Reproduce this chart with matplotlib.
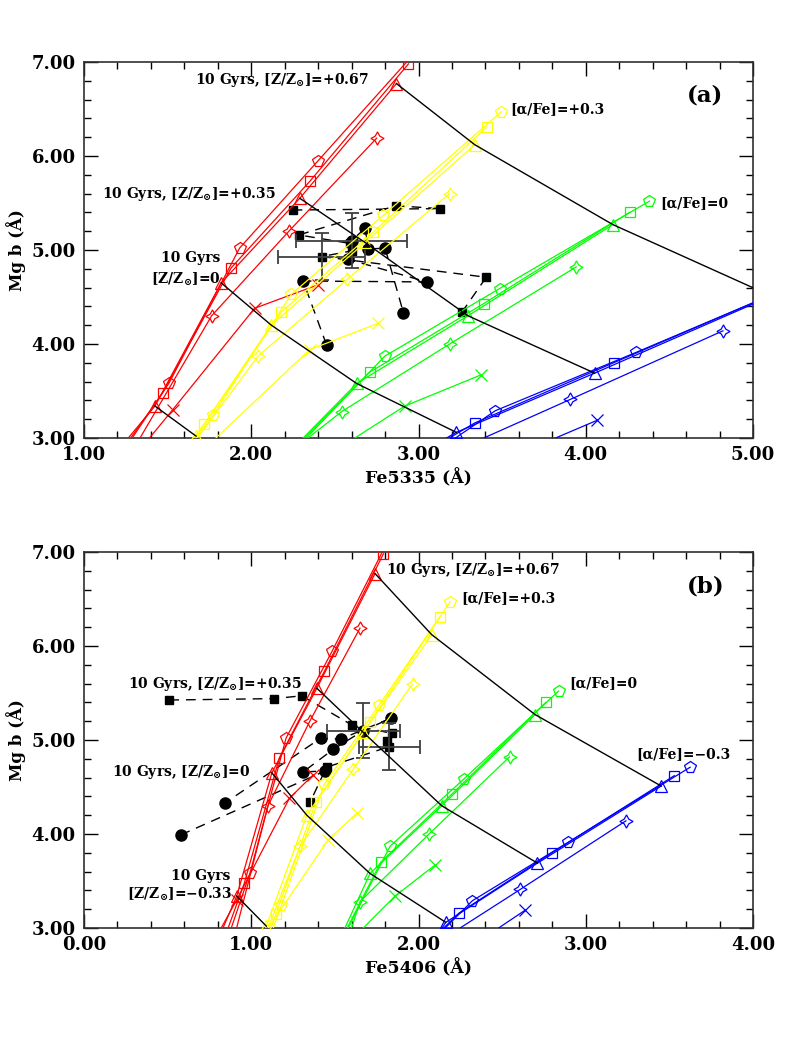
import matplotlib.pyplot as plt
from matplotlib.ticker import MultipleLocator, FormatStrFormatter

plt.rcParams['font.family'] = ['DejaVu Serif']
plt.rcParams['font.weight'] = 'bold'
plt.rcParams['mathtext.fontset'] = 'dejavuserif'

# model tracks, one list per age: x, 4-point star, triangle (10 Gyr), square, pentagon
# first point of every track lies below the plotted Mg b range
track_markers = ['x', (4, 1, 0), '^', 's', 'p']
marker_sizes = [8, 9.5, 9, 7, 8.5]

red_mgb = [[2.5, 3.30, 4.38, 4.63],
           [2.5, 4.30, 5.20, 6.19],
           [2.5, 3.34, 4.65, 5.55, 6.77],
           [2.5, 3.48, 4.81, 5.73, 6.98],
           [2.5, 3.59, 5.02, 5.95, 7.20]]
red_fe5335 = [[1.16, 1.53, 2.02, 2.40],
              [1.17, 1.763, 2.225, 2.75],
              [1.03, 1.424, 1.82, 2.29, 2.868],
              [1.08, 1.47, 1.88, 2.35, 2.94],
              [1.10, 1.51, 1.93, 2.40, 3.03]]
red_fe5406 = [[0.665, 0.913, 1.228, 1.371],
              [0.84, 1.10, 1.35, 1.65],
              [0.71, 0.913, 1.123, 1.392, 1.74],
              [0.76, 0.959, 1.168, 1.437, 1.79],
              [0.785, 0.993, 1.208, 1.485, 1.84]]

yellow_mgb = [[2.5, 3.94, 4.22],
              [2.5, 3.87, 4.69, 5.60],
              [2.5, 3.02, 4.20, 5.08, 6.12],
              [2.5, 3.15, 4.34, 5.19, 6.31],
              [2.5, 3.24, 4.53, 5.37, 6.47]]
yellow_fe5335 = [[1.49, 2.35, 2.76],
                 [1.47, 2.04, 2.575, 3.186],
                 [1.475, 1.67, 2.12, 2.68, 3.336],
                 [1.44, 1.72, 2.18, 2.73, 3.41],
                 [1.46, 1.77, 2.24, 2.79, 3.495]]
yellow_fe5406 = [[0.91, 1.461, 1.631],
                 [0.99, 1.292, 1.61, 1.965],
                 [0.986, 1.09, 1.332, 1.67, 2.079],
                 [1.018, 1.148, 1.386, 1.71, 2.129],
                 [1.03, 1.18, 1.437, 1.764, 2.189]]

green_mgb = [[2.5, 3.34, 3.67],
             [2.5, 3.28, 4.00, 4.82],
             [2.5, 3.58, 4.30, 5.27],
             [2.5, 3.70, 4.43, 5.40],
             [2.5, 3.87, 4.59, 5.52]]
green_fe5335 = [[2.18, 2.918, 3.372],
                [1.98, 2.54, 3.186, 3.943],
                [2.035, 2.63, 3.296, 4.162],
                [2.04, 2.708, 3.39, 4.262],
                [2.06, 2.798, 3.485, 4.381]]
green_fe5406 = [[1.39, 1.86, 2.099],
                [1.51, 1.65, 2.063, 2.544],
                [1.43, 1.71, 2.139, 2.697],
                [1.43, 1.774, 2.203, 2.761],
                [1.435, 1.83, 2.274, 2.837]]

blue_mgb = [[2.5, 3.19],
            [2.5, 3.41, 4.14],
            [2.5, 3.06, 3.69, 4.51],
            [2.5, 3.16, 3.80, 4.62],
            [2.5, 3.29, 3.91, 4.71]]
blue_fe5335 = [[3.16, 4.07],
               [2.76, 3.907, 4.82],
               [2.68, 3.226, 4.053, 5.11],
               [2.71, 3.336, 4.166, 5.24],
               [2.81, 3.459, 4.30, 5.36]]
blue_fe5406 = [[2.06, 2.638],
               [1.81, 2.608, 3.24],
               [1.95, 2.163, 2.711, 3.451],
               [1.86, 2.243, 2.797, 3.529],
               [1.88, 2.322, 2.893, 3.624]]

# 10 Gyr lines of constant [Z/Zsun] = -0.33, 0, +0.35, +0.67
iso_mgb = [[3.34, 3.02],
           [4.65, 4.20, 3.58, 3.06],
           [5.55, 5.08, 4.30, 3.69],
           [6.77, 6.12, 5.27, 4.51]]
iso_fe5335 = [[1.424, 1.67],
              [1.82, 2.12, 2.63, 3.226],
              [2.29, 2.68, 3.296, 4.053],
              [2.868, 3.336, 4.162, 5.11]]
iso_fe5406 = [[0.913, 1.09],
              [1.123, 1.332, 1.71, 2.163],
              [1.392, 1.67, 2.139, 2.711],
              [1.74, 2.079, 2.697, 3.451]]

# observed points (squares and circles), joined in order
sq_mgb = [5.425, 5.44, 5.47, 5.16, 5.07, 4.99, 4.93, 4.71, 4.34]
sq_fe5335 = [2.247, 3.13, 2.864, 2.284, 2.59, 2.60, 2.42, 3.405, 3.26]
sq_fe5406 = [0.510, 1.138, 1.302, 1.601, 1.84, 1.814, 1.826, 1.45, 1.352]
circ_mgb = [3.99, 4.67, 4.66, 4.90, 5.10, 5.23, 5.01, 5.02, 4.33]
circ_fe5335 = [2.45, 2.31, 3.05, 2.58, 2.60, 2.68, 2.70, 2.80, 2.91]
circ_fe5406 = [0.578, 1.441, 1.31, 1.49, 1.67, 1.834, 1.535, 1.416, 0.843]

# typical error bars
err_mgb = [4.93, 5.10]
err_mgb_err = [0.25, 0.295]
err_fe5335 = [2.42, 2.60]
err_fe5335_err = [0.26, 0.33]
err_fe5406 = [1.826, 1.67]
err_fe5406_err = [0.18, 0.22]

model_colors = ['#ff0000', '#ffff00', '#00ff00', '#0000ff']
model_mgb = [red_mgb, yellow_mgb, green_mgb, blue_mgb]

zlab = r'[Z/Z$_{\odot}$]'


def draw_panel(ax, model_x, iso_x, sq_x, circ_x, ex, exerr, xlim, xlabel):
    # observed data
    ax.plot(sq_x, sq_mgb, color='k', lw=1, ls='--', dashes=(7, 5), zorder=1)
    ax.plot(circ_x, circ_mgb, color='k', lw=1, ls='--', dashes=(7, 5), zorder=1)
    ax.plot(sq_x, sq_mgb, 's', color='k', ms=5.5, zorder=2)
    ax.plot(circ_x, circ_mgb, 'o', color='k', ms=8, zorder=2)
    ax.errorbar(ex, err_mgb, xerr=exerr, yerr=err_mgb_err, fmt='none',
                ecolor='#404040', elinewidth=1.3, capsize=5, capthick=1.3, zorder=2)

    # model grids
    for color, xs_all, ys_all in zip(model_colors, model_x, model_mgb):
        for xs, ys, m, ms in zip(xs_all, ys_all, track_markers, marker_sizes):
            ax.plot(xs, ys, color=color, lw=0.9, marker=m, ms=ms, mfc='none',
                    mec=color, mew=0.9, markevery=slice(1, None), zorder=3)
    for xs, ys in zip(iso_x, iso_mgb):
        ax.plot(xs, ys, color='k', lw=1, zorder=4)

    ax.set_xlim(xlim)
    ax.set_ylim(3, 7)
    ax.xaxis.set_major_locator(MultipleLocator(1))
    ax.xaxis.set_minor_locator(MultipleLocator(0.2))
    ax.yaxis.set_major_locator(MultipleLocator(1))
    ax.yaxis.set_minor_locator(MultipleLocator(0.2))
    ax.xaxis.set_major_formatter(FormatStrFormatter('%.2f'))
    ax.yaxis.set_major_formatter(FormatStrFormatter('%.2f'))
    ax.tick_params(which='both', direction='in', top=True, right=True, width=1)
    ax.tick_params(which='major', length=10, labelsize=13, pad=6)
    ax.tick_params(which='minor', length=5)
    for s in ax.spines.values():
        s.set_linewidth(1.2)
        s.set_color('#303030')
    ax.set_xlabel(xlabel, fontsize=12.5, fontweight='bold', labelpad=3)
    ax.set_ylabel('Mg b (Å)', fontsize=12, fontweight='bold', labelpad=4)


fig = plt.figure(figsize=(7.95, 10.59), dpi=100)
ax1 = fig.add_axes([0.1057, 0.5864, 0.8415, 0.3551])
ax2 = fig.add_axes([0.1057, 0.1237, 0.8415, 0.3551])

draw_panel(ax1, [red_fe5335, yellow_fe5335, green_fe5335, blue_fe5335], iso_fe5335,
           sq_fe5335, circ_fe5335, err_fe5335, err_fe5335_err, (1, 5), 'Fe5335 (Å)')
draw_panel(ax2, [red_fe5406, yellow_fe5406, green_fe5406, blue_fe5406], iso_fe5406,
           sq_fe5406, circ_fe5406, err_fe5406, err_fe5406_err, (0, 4), 'Fe5406 (Å)')

fs = 10
# panel (a) labels
ax1.text(1.663, 6.81, '10 Gyrs, ' + zlab + '=+0.67', fontsize=fs, va='center', ha='left')
ax1.text(1.11, 5.60, '10 Gyrs, ' + zlab + '=+0.35', fontsize=fs, va='center', ha='left')
ax1.text(1.815, 4.91, '10 Gyrs', fontsize=fs, va='center', ha='right')
ax1.text(1.82, 4.69, zlab + '=0', fontsize=fs, va='center', ha='right')
ax1.text(3.55, 6.50, '[α/Fe]=+0.3', fontsize=fs, va='center', ha='left')
ax1.text(4.447, 5.50, '[α/Fe]=0', fontsize=fs, va='center', ha='left')
ax1.text(4.71, 6.64, '(a)', fontsize=16.5, va='center', ha='center')

# panel (b) labels
ax2.text(1.806, 6.805, '10 Gyrs, ' + zlab + '=+0.67', fontsize=fs, va='center', ha='left')
ax2.text(0.265, 5.595, '10 Gyrs, ' + zlab + '=+0.35', fontsize=fs, va='center', ha='left')
ax2.text(0.169, 4.657, '10 Gyrs, ' + zlab + '=0', fontsize=fs, va='center', ha='left')
ax2.text(0.873, 3.555, '10 Gyrs', fontsize=fs, va='center', ha='right')
ax2.text(0.883, 3.355, zlab + '=\u22120.33', fontsize=fs, va='center', ha='right')
ax2.text(2.255, 6.505, '[α/Fe]=+0.3', fontsize=fs, va='center', ha='left')
ax2.text(2.903, 5.60, '[α/Fe]=0', fontsize=fs, va='center', ha='left')
ax2.text(3.30, 4.85, '[α/Fe]=\u22120.3', fontsize=fs, va='center', ha='left')
ax2.text(3.717, 6.636, '(b)', fontsize=16.5, va='center', ha='center')

fig.savefig('out.png', dpi=100)
